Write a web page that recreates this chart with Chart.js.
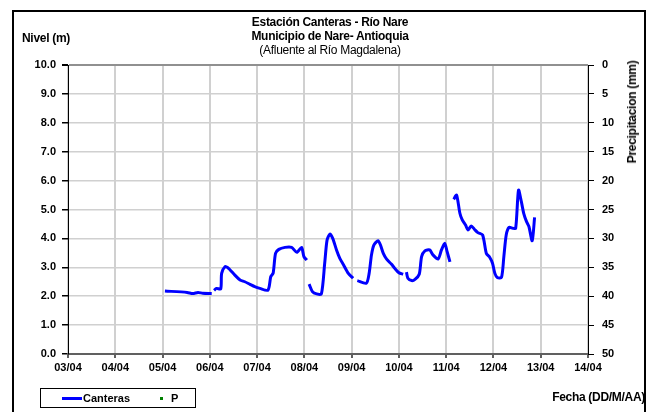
<!DOCTYPE html>
<html>
<head>
<meta charset="utf-8">
<script src="https://cdn.jsdelivr.net/npm/chart.js@4.4.0/dist/chart.umd.min.js"></script>
<style>
  body { margin: 0; background: #fff; }
  #wrap { position: relative; width: 653px; height: 412px; overflow: hidden; font-family: "Liberation Sans", Arial, sans-serif; }
  #frame { position: absolute; left: 12px; top: 10px; width: 634px; height: 420px; border: 2px solid #000; box-sizing: border-box; }
  canvas { position: absolute; left: 0; top: 0; }
  .t { position: absolute; white-space: nowrap; color: #000; font-size: 12px; line-height: 14px; }
  .b { font-weight: bold; }
  #legend { position: absolute; left: 40px; top: 388px; width: 156px; height: 20px; border: 1px solid #000; box-sizing: border-box; font-size: 11px; font-weight: bold; }
</style>
</head>
<body>
<div id="wrap">
  <div id="frame"></div>
  <canvas id="chart" width="653" height="412"></canvas>
  <div class="t b" style="left:330px; top:15px; transform:translateX(-50%); letter-spacing:-0.3px;">Estación Canteras - Río Nare</div>
  <div class="t b" style="left:330px; top:29px; transform:translateX(-50%); letter-spacing:-0.3px;">Municipio de Nare- Antioquia</div>
  <div class="t" style="left:330px; top:43px; transform:translateX(-50%); letter-spacing:-0.3px;">(Afluente al Río Magdalena)</div>
  <div class="t b" style="left:22px; top:31px; letter-spacing:-0.3px;">Nivel (m)</div>
  <div class="t b" style="left:632px; top:112px; transform:translate(-50%,-50%) rotate(-90deg); letter-spacing:-0.3px;">Precipitacion (mm)</div>
  <div class="t b" style="right:8px; top:390px; letter-spacing:-0.3px;">Fecha (DD/M/AA)</div>
  <div id="legend">
    <span style="position:absolute; left:21px; top:8px; width:20px; height:3px; background:#0000ff;"></span>
    <span style="position:absolute; left:42px; top:3px;">Canteras</span>
    <span style="position:absolute; left:119px; top:8px; width:3px; height:3px; background:#008000;"></span>
    <span style="position:absolute; left:130px; top:3px;">P</span>
  </div>
</div>
<script>
// dia (dia de abril) y nivel (m); null = sin dato
const days = [5.05, 5.52, 5.64, 5.75, 5.85, 6.04, 6.06,
  6.09, 6.14, 6.23, 6.25, 6.32, 6.38, 6.53, 6.64, 6.74, 6.85, 6.95, 7.06, 7.23, 7.29, 7.34, 7.39, 7.46, 7.59, 7.73, 7.84, 7.94, 7.99, 8.05, 8.07,
  8.10, 8.17, 8.26, 8.36, 8.43, 8.48, 8.54, 8.60, 8.68, 8.75, 8.83, 8.93, 9.03, 9.07,
  9.12, 9.31, 9.37, 9.42, 9.47, 9.56, 9.61, 9.67, 9.74, 9.84, 9.91, 10.00, 10.09, 10.12,
  10.16, 10.19, 10.27, 10.34, 10.43, 10.48, 10.55, 10.65, 10.72, 10.83, 10.90, 10.97, 11.02, 11.08, 11.12,
  11.16, 11.22, 11.29, 11.34, 11.41, 11.46, 11.53, 11.60, 11.67, 11.77, 11.85, 11.92, 11.98, 12.03, 12.08, 12.17, 12.22, 12.27, 12.33, 12.41, 12.47, 12.53, 12.59, 12.64, 12.70, 12.75, 12.82, 12.87];
const levels = [2.18, 2.13, 2.09, 2.13, 2.10, 2.09, null,
  2.20, 2.27, 2.25, 2.79, 3.02, 2.99, 2.73, 2.56, 2.50, 2.41, 2.33, 2.27, 2.21, 2.68, 2.80, 3.48, 3.62, 3.69, 3.69, 3.52, 3.69, 3.37, 3.25, null,
  2.42, 2.16, 2.08, 2.08, 3.14, 3.94, 4.15, 4.00, 3.60, 3.31, 3.08, 2.79, 2.62, null,
  2.54, 2.45, 2.79, 3.43, 3.77, 3.92, 3.77, 3.48, 3.28, 3.11, 2.97, 2.81, 2.76, null,
  2.83, 2.62, 2.54, 2.58, 2.76, 3.37, 3.57, 3.60, 3.43, 3.29, 3.60, 3.83, 3.54, 3.19, null,
  5.35, 5.50, 4.87, 4.64, 4.46, 4.29, 4.43, 4.31, 4.20, 4.12, 3.48, 3.35, 3.14, 2.79, 2.65, 2.65, 3.37, 4.12, 4.38, 4.35, 4.35, 5.67, 5.27, 4.87, 4.58, 4.41, 3.92, 4.73];
const precipitation = []; // P: sin registros en el periodo

const font = { family: "'Liberation Sans', Arial, sans-serif", size: 11, weight: "bold" };
const pad2 = (n) => (n < 10 ? "0" : "") + n;

new Chart(document.getElementById("chart"), {
  type: "line",
  data: {
    datasets: [
      {
        label: "Canteras",
        data: days.map((d, i) => ({ x: d, y: levels[i] })),
        borderColor: "#0000ff",
        borderWidth: 3,
        pointRadius: 0,
        tension: 0.25,
        spanGaps: false,
        yAxisID: "y",
      },
      {
        label: "P",
        data: precipitation,
        borderColor: "#008000",
        backgroundColor: "#008000",
        showLine: false,
        pointRadius: 1.5,
        yAxisID: "y2",
      },
    ],
  },
  options: {
    responsive: false,
    animation: false,
    layout: { padding: { top: 65, left: 0, right: 0, bottom: 0 } },
    plugins: { legend: { display: false }, tooltip: { enabled: false } },
    scales: {
      x: {
        type: "linear",
        min: 3,
        max: 14,
        afterFit: (s) => { s.height = 58; },
        ticks: { stepSize: 1, color: "#000", font, padding: 3, maxRotation: 0, callback: (v) => pad2(v) + "/04" },
        grid: { color: "#d0d0d0", lineWidth: 2, tickColor: "#606060", tickLength: 4 },
        border: { color: "#606060", width: 2 },
      },
      y: {
        position: "left",
        min: 0,
        max: 10,
        afterFit: (s) => { s.width = 68; },
        ticks: { stepSize: 1, color: "#000", font, padding: 6, callback: (v) => v.toFixed(1) },
        grid: {
          color: (c) => (c.tick && c.tick.value === 10 ? "#909090" : "#d0d0d0"),
          lineWidth: (c) => (c.tick && c.tick.value === 10 ? 2 : 1.5),
          tickColor: "#000",
          tickLength: 6,
        },
        border: { color: "#000", width: 1 },
      },
      y2: {
        position: "right",
        reverse: true,
        min: 0,
        max: 50,
        afterFit: (s) => { s.width = 65; },
        ticks: { stepSize: 5, color: "#000", font, padding: 8 },
        grid: { drawOnChartArea: false, tickColor: "#000", tickLength: 6 },
        border: { color: "#000", width: 1 },
      },
    },
  },
});
</script>
</body>
</html>
